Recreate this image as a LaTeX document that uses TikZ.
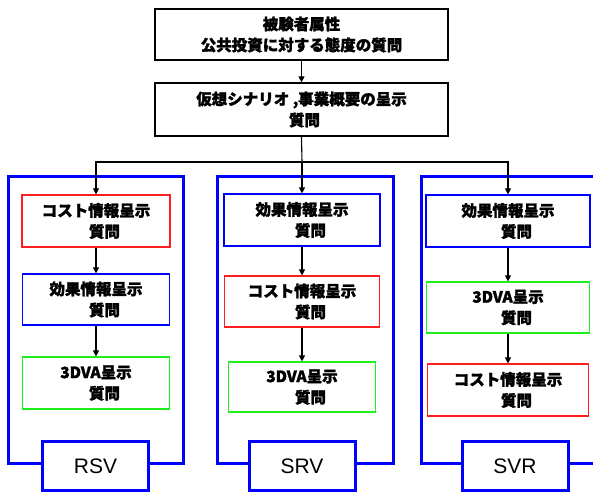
\documentclass[tikz,border=0pt]{standalone}
\usepackage{fontspec}
\newfontfamily\jp{Noto Sans CJK JP}[BoldFeatures={FakeBold=1.6}]
\newfontfamily\lab{Liberation Sans}
\usetikzlibrary{arrows.meta}
\definecolor{fblue}{RGB}{0,0,255}
\definecolor{fred}{RGB}{255,30,30}
\definecolor{fgreen}{RGB}{30,240,30}
\tikzset{
  txt/.style={font=\jp\bfseries\fontsize{15.5}{21}\selectfont, align=center, inner sep=0pt},
  topbox/.style={txt, draw=black, line width=1.3pt, minimum width=293pt},
  inbox/.style={txt, draw=#1, line width=1.2pt},
  frame/.style={draw=fblue, line width=3pt, inner sep=0pt},
  labbox/.style={draw=fblue, line width=3pt, fill=white, font=\lab\fontsize{21}{24}\selectfont, minimum width=106pt, minimum height=49pt, inner sep=0pt},
  conn/.style={draw=black, line width=1.1pt},
  arr/.style={conn, -{Triangle[length=6pt,width=6pt]}}
}
\begin{document}
\begin{tikzpicture}[x=1pt,y=-1pt]
\useasboundingbox (0,0) rectangle (593,493);
\clip (0,0) rectangle (593,493);
% frames
\node[frame, minimum width=175pt, minimum height=287pt] (fR) at (95.5,319.5) {};
\node[frame, minimum width=176pt, minimum height=287pt] (fS) at (305,319.5) {};
\node[frame, minimum width=360pt, minimum height=287pt] (fV) at (601,319.5) {};
\node[labbox] (lR) at (95.5,466) {RSV};
\node[labbox] (lS) at (302,466) {SRV};
\node[labbox] (lV) at (515,466) {SVR};
% top boxes
\node[topbox, minimum height=51pt] (t1) at (301.5,34.5) {被験者属性\\公共投資に対する態度の質問};
\node[topbox, minimum height=53pt] (t2) at (301.5,109.5) {仮想シナリオ ,事業概要の呈示\\\hspace{6pt}質問};
% RSV
\node[inbox=fred, minimum width=148pt, minimum height=52pt] (r1) at (96,221) {コスト情報呈示\\\hspace{17pt}質問};
\node[inbox=fblue, minimum width=147pt, minimum height=51pt] (r2) at (96,299.5) {効果情報呈示\\\hspace{17pt}質問};
\node[inbox=fgreen, minimum width=147pt, minimum height=52pt] (r3) at (96,383) {3DVA呈示\\\hspace{17pt}質問};
% SRV
\node[inbox=fblue, minimum width=156pt, minimum height=52pt] (s1) at (302,220) {効果情報呈示\\\hspace{17pt}質問};
\node[inbox=fred, minimum width=155pt, minimum height=51pt] (s2) at (302,301.5) {コスト情報呈示\\\hspace{17pt}質問};
\node[inbox=fgreen, minimum width=147pt, minimum height=50pt] (s3) at (302,387) {3DVA呈示\\\hspace{17pt}質問};
% SVR
\node[inbox=fblue, minimum width=164pt, minimum height=52pt] (v1) at (508,221) {効果情報呈示\\\hspace{17pt}質問};
\node[inbox=fgreen, minimum width=163pt, minimum height=51pt] (v2) at (508,307.5) {3DVA呈示\\\hspace{17pt}質問};
\node[inbox=fred, minimum width=161pt, minimum height=52pt] (v3) at (508,390) {コスト情報呈示\\\hspace{17pt}質問};
% connectors
\coordinate (j) at (302,162);
\draw[arr] (t1.south) -- (t2.north);
\draw[conn] (t2.south) -- (j);
\draw[arr] (j) -| (r1.north);
\draw[arr] (j) -| (v1.north);
\draw[arr] (j) -- (s1.north);
\draw[arr] (r1) -- (r2);
\draw[arr] (r2) -- (r3);
\draw[arr] (s1) -- (s2);
\draw[arr] (s2) -- (s3);
\draw[arr] (v1) -- (v2);
\draw[arr] (v2) -- (v3);
\end{tikzpicture}
\end{document}
